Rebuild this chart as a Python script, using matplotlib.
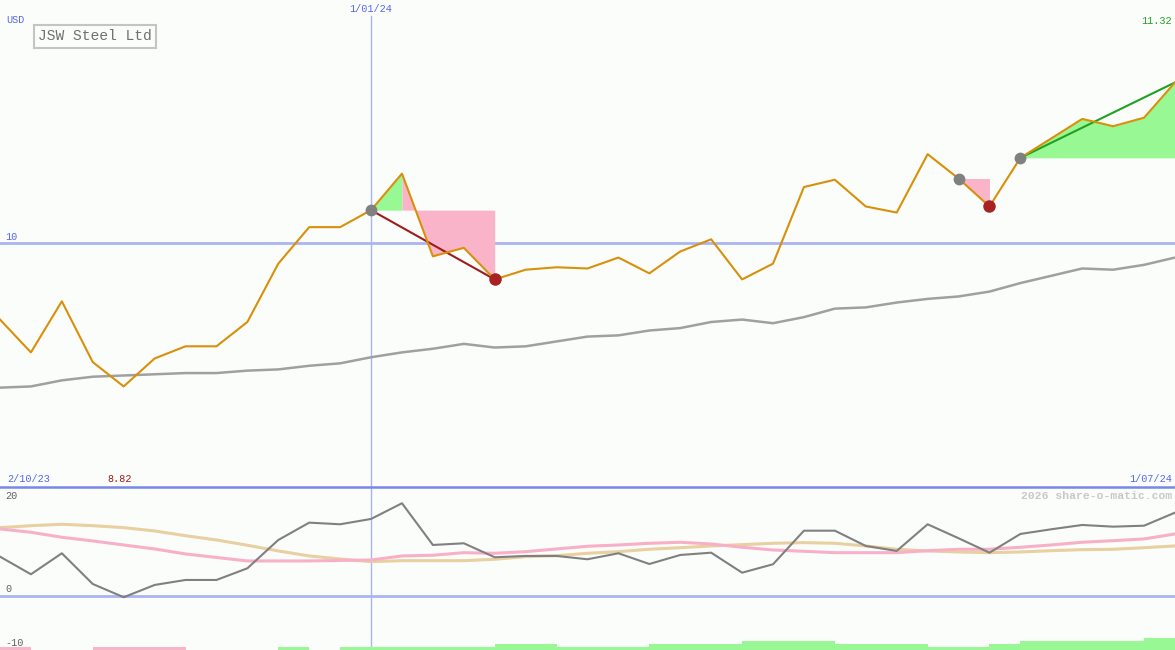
import matplotlib
matplotlib.use("Agg")
import matplotlib.pyplot as plt
from matplotlib.lines import Line2D
import numpy as np

# weekly closes, 2/10/23 .. 1/07/24
price = [9.37, 9.10, 9.52, 9.02, 8.82, 9.05, 9.15, 9.15, 9.35, 9.83,
         10.13, 10.13, 10.27, 10.57, 9.89, 9.96, 9.70, 9.78, 9.80, 9.79,
         9.88, 9.75, 9.93, 10.03, 9.70, 9.83, 10.46, 10.52, 10.30, 10.25,
         10.73, 10.53, 10.30, 10.70, 10.86, 11.02, 10.96, 11.03, 11.32]
moving_avg = [8.81, 8.82, 8.87, 8.90, 8.91, 8.92, 8.93, 8.93, 8.95, 8.96,
              8.99, 9.01, 9.06, 9.10, 9.13, 9.17, 9.14, 9.15, 9.19, 9.23,
              9.24, 9.28, 9.30, 9.35, 9.37, 9.34, 9.39, 9.46, 9.47, 9.51,
              9.54, 9.56, 9.60, 9.67, 9.73, 9.79, 9.78, 9.82, 9.88]

# lower panel indicator lines
osc = [7.18, 3.94, 7.80, 2.15, -0.29, 1.97, 2.89, 2.89, 5.04, 10.25,
       13.44, 13.14, 14.12, 17.01, 9.33, 9.64, 7.07, 7.31, 7.31, 6.70,
       7.80, 5.83, 7.49, 7.91, 4.23, 5.78, 11.96, 11.96, 9.15, 8.23,
       13.14, 10.57, 7.91, 11.36, 12.22, 13.01, 12.70, 12.88, 15.28]
osc_fast = [12.28, 11.67, 10.75, 10.07, 9.33, 8.60, 7.68, 7.03, 6.39, 6.39,
            6.39, 6.48, 6.57, 7.31, 7.44, 7.91, 7.80, 8.10, 8.60, 9.09,
            9.33, 9.64, 9.83, 9.51, 8.91, 8.41, 8.17, 7.91, 7.91, 7.91,
            8.28, 8.54, 8.54, 8.91, 9.33, 9.83, 10.12, 10.44, 11.36]
osc_slow = [12.52, 12.88, 13.14, 12.88, 12.52, 11.91, 11.04, 10.25, 9.28, 8.23,
            7.31, 6.75, 6.26, 6.44, 6.44, 6.44, 6.70, 7.18, 7.36, 7.80,
            8.10, 8.54, 8.83, 9.15, 9.39, 9.64, 9.76, 9.64, 9.15, 8.54,
            8.23, 8.04, 7.91, 8.04, 8.28, 8.47, 8.54, 8.83, 9.15]
# trend strength per week (sign = colour), drawn as steps at the bottom
strength = [-1, 0, 0, -1, -1, -1, 0, 0, 0, 1, 0, 1, 1, 1, 1, 1, 2, 2, 1,
            1, 1, 2, 2, 2, 3, 3, 3, 2, 2, 2, 1, 1, 2, 3, 3, 3, 3, 4]

# trades: entry week, exit week, still open?
trade_entry = [12, 31, 33]
trade_exit = [16, 32, 38]
trade_open = [False, False, True]
# shaded spans: (entry week, from, to, kind)
spans = [(12, 12, 13, "gain"), (12, 13, 16, "loss"),
         (31, 31, 32, "loss"), (33, 33, 38, "gain")]

first_date, mid_date, last_date = "2/10/23", "1/01/24", "1/07/24"
mid_idx = 12

bg = "#fbfdfb"
blue = "#5566f0"
light_blue = "#a8b4f4"
pink = "#f9b4ca"
green = "#98f894"
W, H = 1175, 650

plt.rcParams["font.family"] = ["Liberation Mono", "DejaVu Sans Mono"]

fig = plt.figure(figsize=(W / 100, H / 100), dpi=100)
fig.patch.set_facecolor(bg)
ax = fig.add_axes([0, 163 / H, 1, 487 / H])
ax2 = fig.add_axes([0, 0, 1, 163 / H])
x = np.arange(len(price))
p = np.array(price)

# ---- upper panel
ax.set_xlim(0, len(price) - 1)
ax.set_ylim(7.993, 11.998)
ax.set_axis_off()
ax.axhline(10, color=light_blue, lw=2, zorder=1)
ax.axvline(mid_idx, ymax=0.967, color=light_blue, lw=1, zorder=1)

for entry, a, b, kind in spans:
    ax.fill_between(x[a:b + 1], p[a:b + 1], p[entry],
                    color=green if kind == "gain" else pink, lw=0, zorder=2)

ax.plot(x, moving_avg, color="#a0a0a0", lw=1.8, zorder=3)
for e, s, op in zip(trade_entry, trade_exit, trade_open):
    if s - e > 1:
        ax.plot([e, s], [p[e], p[s]], color="#22a022" if op else "#a01c1c",
                lw=1.5, zorder=3)
ax.plot(x, p, color="#d8900a", lw=1.5, zorder=4)
for e, s, op in zip(trade_entry, trade_exit, trade_open):
    ax.plot(e, p[e], "o", ms=8.5, color="#808080", mec="none", zorder=5)
    if not op:
        ax.plot(s, p[s], "o", ms=9, color="#a82222", mec="none", zorder=5)

ax.annotate("10", xy=(0, 10), xycoords=("axes fraction", "data"),
            xytext=(5, 1), textcoords="offset pixels", va="bottom",
            fontsize=7.3, color=blue)
ax.annotate(mid_date, xy=(mid_idx, 1 - 9 / 487),
            xycoords=("data", "axes fraction"), ha="center", va="center",
            fontsize=7.3, color=blue)
ax.text(1 - 3 / W, 1 - 21 / 487, f"{max(price):.2f}", transform=ax.transAxes,
        ha="right", va="center", fontsize=7.3, color="#22a022")

# ---- lower panel
ax2.set_xlim(0, len(price) - 1)
ax2.set_ylim(-10, 20)
ax2.set_axis_off()
ax2.axhline(0, color=light_blue, lw=2, zorder=1)
ax2.axvline(mid_idx, color=light_blue, lw=1, zorder=1)
ax2.axhline(20, color="#7888e8", lw=1.8, zorder=6, clip_on=False)
ax2.bar(np.arange(len(strength)), [abs(v) * 0.55 for v in strength],
        width=1, align="edge", bottom=-10, lw=0,
        color=[pink if v < 0 else green for v in strength], zorder=2)
ax2.plot(x, osc_slow, color="#e8d0a0", lw=2.2, zorder=3)
ax2.plot(x, osc_fast, color="#f8b0c8", lw=2.2, zorder=3)
ax2.plot(x, osc, color="#808080", lw=1.5, zorder=4)


def ft(px, py, s, **kw):
    kw.setdefault("fontsize", 7.3)
    kw.setdefault("va", "center")
    fig.text(px / W, 1 - py / H, s, **kw)


ft(6, 20, "USD", color=blue)
ft(7, 479, first_date, color=blue)
ft(107, 479, f"{min(price):.2f}", color="#a01818")
ft(1172, 479, last_date, color=blue, ha="right")
ft(1172, 496, "2026 share-o-matic.com", color="#c8c8c8", ha="right",
   fontsize=8.2, weight="bold")
ft(5, 496, "20", color="#606060")
ft(5, 589, "0", color="#606060")
ft(5, 643, "-10", color="#606060")
ft(38, 36.5, "JSW Steel Ltd", color="#707070", fontsize=10.5,
   bbox=dict(boxstyle="square,pad=0.3", fc=bg, ec="#c4c4c4", lw=1.5))

fig.savefig("out.png", dpi=100, facecolor=bg)
